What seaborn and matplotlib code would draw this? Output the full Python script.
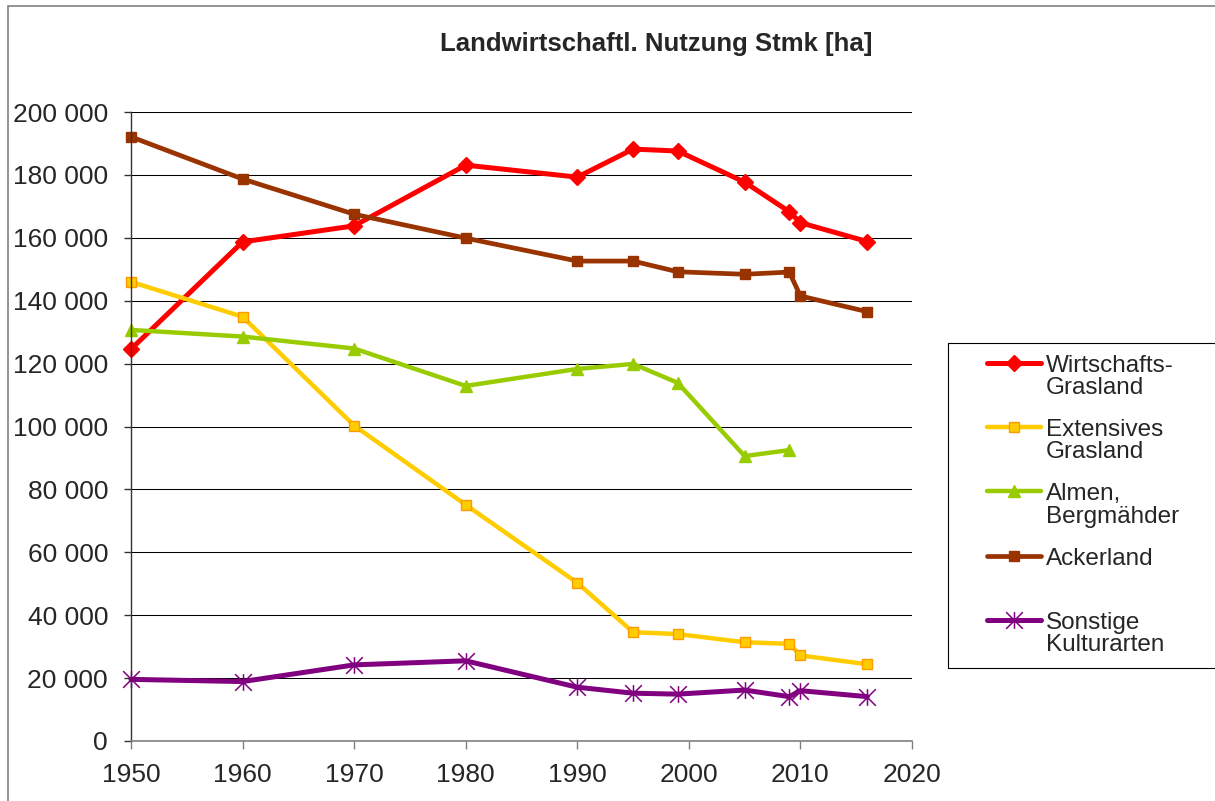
import numpy as np
import pandas as pd
import matplotlib
matplotlib.use("Agg")
import matplotlib.pyplot as plt
from matplotlib.path import Path
from matplotlib.lines import Line2D
from matplotlib.legend_handler import HandlerLine2D
from matplotlib.transforms import Affine2D
from matplotlib.patches import Rectangle
from matplotlib.ticker import FuncFormatter, FixedLocator
import seaborn as sns

# ---------------- data ----------------
years = [1950, 1960, 1970, 1980, 1990, 1995, 1999, 2005, 2009, 2010, 2016]
wirtschafts_grasland = [124600, 158700, 163800, 183100, 179300, 188200, 187600, 177700, 168300, 164800, 158800]
extensives_grasland = [146000, 134900, 100300, 75100, 50300, 34600, 34000, 31400, 30900, 27200, 24400]
almen_bergmaehder = [130700, 128600, 124800, 112900, 118300, 119900, 113900, 90600, 92500, None, None]
ackerland = [192100, 178700, 167500, 159900, 152600, 152600, 149200, 148400, 149100, 141500, 136500]
sonstige_kulturarten = [19600, 18900, 24200, 25500, 17100, 15200, 14900, 16200, 14100, 16000, 14100]

series_labels = ["Wirtschafts-\nGrasland", "Extensives\nGrasland", "Almen,\nBergmähder",
                 "Ackerland\n", "Sonstige\nKulturarten"]
chart_title = "Landwirtschaftl. Nutzung Stmk [ha]"
x_ticks = [1950, 1960, 1970, 1980, 1990, 2000, 2010, 2020]
y_ticks = [0, 20000, 40000, 60000, 80000, 100000, 120000, 140000, 160000, 180000, 200000]

series_values = [wirtschafts_grasland, extensives_grasland, almen_bergmaehder,
                 ackerland, sonstige_kulturarten]

# ---------------- styles ----------------
star_path = Path([(0, -1), (0, 1), (-1, -1), (1, 1), (-1, 1), (1, -1)],
                 [Path.MOVETO, Path.LINETO, Path.MOVETO, Path.LINETO, Path.MOVETO, Path.LINETO])
styles = [
    dict(color="#FF0000", lw=3.6, marker="D", ms=8, mfc="#FF0000", mec="#FF0000", mew=1),
    dict(color="#FFCC00", lw=3.2, marker="s", ms=7.5, mfc="#FFCC00", mec="#FF9900", mew=1),
    dict(color="#99CC00", lw=3.2, marker="^", ms=8.5, mfc="#99CC00", mec="#99CC00", mew=1),
    dict(color="#993300", lw=3.4, marker="s", ms=7.5, mfc="#993300", mec="#993300", mew=1),
    dict(color="#800080", lw=3.6, marker=star_path, ms=12, mfc="none", mec="#800080", mew=1.1),
]

W, H = 1215, 801
sns.set_style("white")
plt.rcParams["font.family"] = ["Liberation Sans", "DejaVu Sans"]

fig = plt.figure(figsize=(W / 100, H / 100), dpi=100)
ax = fig.add_axes([131 / W, 1 - 741 / H, (912 - 131) / W, (741 - 112) / H])

for vals, lab, st in zip(series_values, series_labels, styles):
    df = pd.DataFrame({"year": years, "value": vals}).dropna()
    sns.lineplot(data=df, x="year", y="value", ax=ax, label=lab, estimator=None, sort=False,
                 color=st["color"], linewidth=st["lw"], marker=st["marker"],
                 markersize=st["ms"], markerfacecolor=st["mfc"], markeredgecolor=st["mec"],
                 markeredgewidth=st["mew"], clip_on=False)

ax.set_xlim(1950, 2020)
ax.set_ylim(0, 200000)
ax.xaxis.set_major_locator(FixedLocator(x_ticks))
ax.yaxis.set_major_locator(FixedLocator(y_ticks))
ax.yaxis.set_major_formatter(FuncFormatter(lambda v, p: f"{int(v):,}".replace(",", " ")))
ax.set_xlabel("")
ax.set_ylabel("")
ax.set_axisbelow(True)
ax.yaxis.grid(True, color="black", linewidth=0.75)
ax.xaxis.grid(False)
for s in ["top", "right"]:
    ax.spines[s].set_visible(False)
ax.spines["left"].set_color("#333333")
ax.spines["left"].set_linewidth(1.0)
ax.spines["bottom"].set_color("#808080")
ax.spines["bottom"].set_linewidth(1.2)
ax.tick_params(axis="y", direction="out", length=5, width=1, color="#333333",
               pad=11.5, labelsize=19, left=True)
ax.tick_params(axis="x", direction="out", length=5.8, width=1, color="#808080",
               pad=10, labelsize=19, bottom=True)

fig.text(656 / W, 1 - 51 / H, chart_title, ha="center", va="baseline",
         fontsize=18.5, fontweight="bold")


class FirstLineHandler(HandlerLine2D):
    def create_artists(self, legend, orig_handle, xdescent, ydescent, width, height, fontsize, trans):
        arts = super().create_artists(legend, orig_handle, xdescent, ydescent, width, height,
                                      fontsize, trans)
        shift = Affine2D().translate(0, 0.58 * fontsize)
        for a in arts:
            a.set_transform(shift + trans)
        return arts


handles, labels = ax.get_legend_handles_labels()
if ax.get_legend() is not None:
    ax.get_legend().remove()
leg = fig.legend(handles, labels, loc="upper left",
                 bbox_to_anchor=(948 / W, 0.0, (W + 3 - 948) / W, 1 - 343 / H),
                 bbox_transform=fig.transFigure, mode="expand", borderaxespad=0,
                 borderpad=0.48, labelspacing=0.84, handlelength=3.34, handletextpad=0.2,
                 fontsize=17.5, frameon=True, fancybox=False, edgecolor="black",
                 framealpha=1, markerscale=1.0,
                 handler_map={Line2D: FirstLineHandler(xpad=1.14)})
leg.get_frame().set_linewidth(0.8)
for t in leg.get_texts():
    t.set_linespacing(1.0)

# outer chart border
fig.patches.append(Rectangle((8 / W, -0.05), 1.05, 1 - 6 / H + 0.05, transform=fig.transFigure,
                             fill=False, edgecolor="#808080", linewidth=1.2, zorder=0))

fig.savefig("out.png", dpi=100)
